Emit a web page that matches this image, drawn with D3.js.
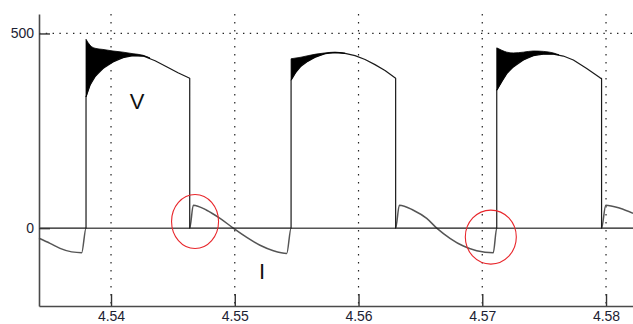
<!DOCTYPE html>
<html>
<head>
<meta charset="utf-8">
<script src="https://cdn.jsdelivr.net/npm/d3@7"></script>
<style>
  body { margin: 0; background: #fff; }
  svg { display: block; font-family: "Liberation Sans", Arial, sans-serif; }
</style>
</head>
<body>
<div id="viz"></div>
<script>
const width = 633;
const height = 324;
const plot = {left: 39, right: 633, top: 14, bottom: 306};

// axes
const xDomain = [4.53418, 4.58218];
const yDomain = [-200, 550];
const xTicks = [4.54, 4.55, 4.56, 4.57, 4.58];
const yTicks = [0, 500];

// voltage V: [time, value]
const voltage = [
  [4.53418, 0], [4.53798, 0],
  [4.53798, 337], [4.5383, 367], [4.53871, 389], [4.53935, 410], [4.54016, 427], [4.54097, 438],
  [4.54178, 443], [4.54259, 442], [4.54356, 430], [4.54453, 414], [4.54541, 399], [4.54636, 385],
  [4.54636, 0], [4.55455, 0],
  [4.55455, 380], [4.55495, 401], [4.55535, 416], [4.55592, 429], [4.55657, 440], [4.55729, 448],
  [4.5581, 451], [4.55891, 449], [4.55972, 443], [4.56053, 433], [4.56133, 420], [4.56214, 405], [4.563, 385],
  [4.563, 0], [4.57117, 0],
  [4.57117, 354], [4.57157, 376], [4.57198, 397], [4.57251, 414], [4.57332, 432], [4.57412, 443],
  [4.57493, 447], [4.57574, 447], [4.57655, 442], [4.57736, 432], [4.57844, 410], [4.57952, 386], [4.57964, 384],
  [4.57964, 0], [4.58218, 0]
];

// switching ringing on V after each turn-on: [time, low, high]
const ringing1 = [
  [4.53798, 337, 485], [4.5383, 367, 470], [4.53871, 389, 462], [4.53935, 410, 459], [4.54016, 427, 455],
  [4.54097, 438, 452], [4.54178, 443, 448], [4.54259, 442, 444], [4.54315, 436, 437]
];
const ringing2 = [
  [4.55455, 380, 435], [4.55495, 401, 437], [4.55535, 416, 439], [4.55592, 429, 443], [4.55657, 440, 447],
  [4.55729, 448, 450], [4.5581, 451, 452], [4.55891, 449, 449]
];
const ringing3 = [
  [4.57117, 354, 463], [4.57157, 376, 457], [4.57198, 397, 452], [4.57251, 414, 450], [4.57332, 432, 452],
  [4.57412, 443, 455], [4.57493, 447, 454], [4.57574, 447, 450], [4.5762, 445, 445]
];

// current I: [time, value]
const current = [
  [4.53418, -26], [4.53507, -39], [4.53588, -52], [4.53682, -61], [4.53763, -63], [4.53798, 0],
  [4.54636, 0], [4.54665, 59], [4.54773, 46], [4.54881, 25], [4.54988, 0], [4.55097, -24],
  [4.55204, -44], [4.55312, -58], [4.5542, -65], [4.55455, 0],
  [4.563, 0], [4.5633, 59], [4.56443, 46], [4.56551, 25], [4.56632, 0], [4.56739, -26],
  [4.56847, -46], [4.56955, -58], [4.57089, -63], [4.57117, 0],
  [4.57964, 0], [4.57998, 59], [4.58113, 51], [4.58218, 38]
];

const traceLabels = [
  {text: 'V', t: 4.5421, v: 306},
  {text: 'I', t: 4.5522, v: -131}
];

// red markers around the current reversal
const circles = [
  {t: 4.54679, v: 17, rx: 23.5, ry: 27},
  {t: 4.57069, v: -23, rx: 25.5, ry: 27}
];

const x = d3.scaleLinear().domain(xDomain).range([plot.left, plot.right]);
const y = d3.scaleLinear().domain(yDomain).range([plot.bottom, plot.top]);

const svg = d3.select('#viz')
  .append('svg')
    .attr('width', width)
    .attr('height', height);

// dotted grid
svg.append('g')
  .selectAll('line')
  .data(xTicks)
  .join('line')
    .attr('x1', d => x(d)).attr('x2', d => x(d))
    .attr('y1', plot.top).attr('y2', plot.bottom)
    .attr('stroke', '#222')
    .attr('stroke-width', 1.2)
    .attr('stroke-dasharray', '1.4 6.6');
svg.append('g')
  .selectAll('line')
  .data(yTicks.filter(d => d !== 0))
  .join('line')
    .attr('x1', plot.left).attr('x2', plot.right)
    .attr('y1', d => y(d)).attr('y2', d => y(d))
    .attr('stroke', '#222')
    .attr('stroke-width', 1.2)
    .attr('stroke-dasharray', '1.4 5.4');

// current trace
const currentLine = d3.line()
  .x(d => x(d[0]))
  .y(d => y(d[1]))
  .curve(d3.curveMonotoneX);
svg.append('path')
  .attr('d', currentLine(current))
  .attr('fill', 'none')
  .attr('stroke', '#555')
  .attr('stroke-width', 1.5);

// voltage trace
const voltageLine = d3.line()
  .x(d => x(d[0]))
  .y(d => y(d[1]));
svg.append('path')
  .attr('d', voltageLine(voltage))
  .attr('fill', 'none')
  .attr('stroke', '#1a1a1a')
  .attr('stroke-width', 1.2)
  .attr('stroke-linejoin', 'round');

// ringing bands
const band = d3.area()
  .x(d => x(d[0]))
  .y0(d => y(d[1]))
  .y1(d => y(d[2]))
  .curve(d3.curveMonotoneX);
svg.append('g')
  .selectAll('path')
  .data([ringing1, ringing2, ringing3])
  .join('path')
    .attr('d', band)
    .attr('fill', '#000')
    .attr('stroke', '#000')
    .attr('stroke-width', 0.8);

// trace labels
svg.append('g')
  .selectAll('text')
  .data(traceLabels)
  .join('text')
    .attr('x', d => x(d.t))
    .attr('y', d => y(d.v))
    .attr('text-anchor', 'middle')
    .style('font-size', '22px')
    .attr('fill', '#111')
    .text(d => d.text);

// annotation circles
svg.append('g')
  .selectAll('ellipse')
  .data(circles)
  .join('ellipse')
    .attr('cx', d => x(d.t))
    .attr('cy', d => y(d.v))
    .attr('rx', d => d.rx)
    .attr('ry', d => d.ry)
    .attr('fill', 'none')
    .attr('stroke', '#e8262b')
    .attr('stroke-width', 1.1);

// axes with inward ticks
const xAxis = svg.append('g')
  .attr('transform', `translate(0,${plot.bottom})`)
  .call(d3.axisBottom(x)
    .tickValues(xTicks)
    .tickFormat(d3.format('.2f'))
    .tickSizeInner(-12)
    .tickSizeOuter(0)
    .tickPadding(5));
const yAxis = svg.append('g')
  .attr('transform', `translate(${plot.left},0)`)
  .call(d3.axisLeft(y)
    .tickValues(yTicks)
    .tickSizeInner(-11)
    .tickSizeOuter(0)
    .tickPadding(5));

[xAxis, yAxis].forEach(ax => {
  ax.select('.domain').attr('stroke', '#4a4a4a').attr('stroke-width', 1.6);
  ax.selectAll('.tick line').attr('stroke', '#333').attr('stroke-width', 1.4);
  ax.selectAll('.tick text')
    .attr('fill', '#1c2233')
    .style('font-size', '14px')
    .style('font-family', '"Liberation Sans", Arial, sans-serif');
});
</script>
</body>
</html>
